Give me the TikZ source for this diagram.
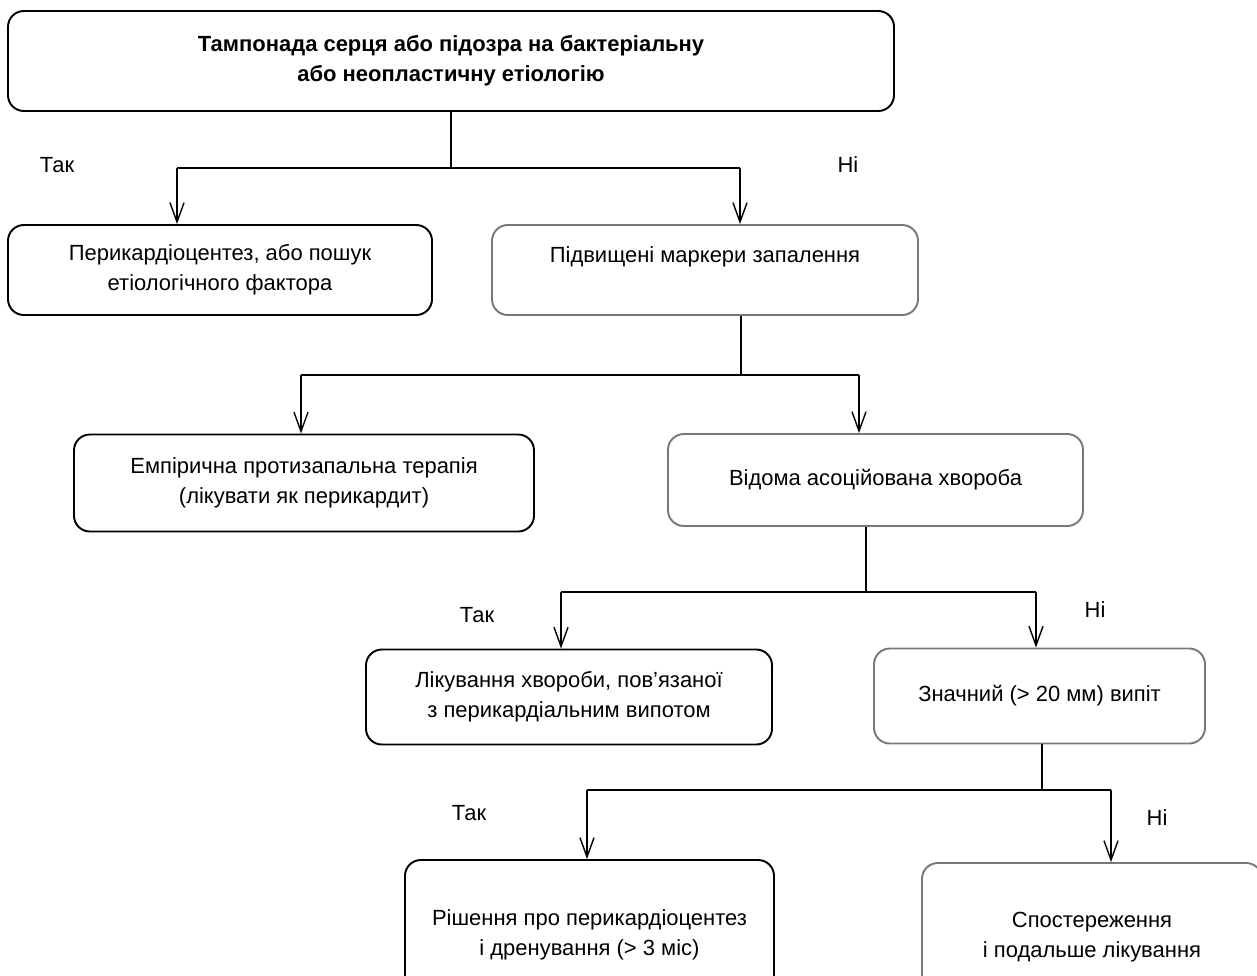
\documentclass[tikz,border=0pt]{standalone}
\usepackage{fontspec}
\setmainfont{Liberation Sans}
\usetikzlibrary{arrows.meta}
\definecolor{boxgrey}{RGB}{120,120,120}

\begin{document}
\begin{tikzpicture}[x=0.02cm,y=-0.02cm,
    box/.style={draw=black,line width=1.1pt,rounded corners=9pt,align=center,inner sep=0pt,font=\boxfontsize},
    greybox/.style={box,draw=boxgrey},
    boxsize/.style 2 args={minimum width=#1*0.02cm,minimum height=#2*0.02cm},
    stem/.style={line width=1.1pt},
    branch/.style={line width=0.8pt,-{Straight Barb[length=11pt,width=8pt]}},
    answer/.style={inner sep=0pt,font=\boxfontsize}]
    \providecommand{\boxfontsize}{\fontsize{12.5pt}{17pt}\selectfont}
    \clip (0,0) rectangle (1257,975);
    % boxes
    \node[box,boxsize={886}{100}] (tamponade) at (451,61)
        {\bfseries Тампонада серця або підозра на бактеріальну\\\bfseries або неопластичну етіологію};
    \node[box,boxsize={424}{90}] (pericard) at (220,270)
        {Перикардіоцентез, або пошук\\етіологічного фактора};
    \node[greybox,boxsize={426}{90}] (markers) at (705,270)
        {Підвищені маркери запалення\\[-4.5pt]\strut};
    \node[box,boxsize={460}{97}] (empiric) at (304,483)
        {Емпірична протизапальна терапія\\(лікувати як перикардит)};
    \node[greybox,boxsize={415}{92}] (disease) at (875.5,480)
        {Відома асоційована хвороба};
    \node[box,boxsize={406}{95}] (treat) at (569,697)
        {Лікування хвороби, пов’язаної\\з перикардіальним випотом};
    \node[greybox,boxsize={331}{95}] (effusion) at (1039.5,696)
        {Значний (> 20 мм) випіт};
    \node[box,boxsize={369}{150}] (decision) at (589.5,935)
        {Рішення про перикардіоцентез\\і дренування (> 3 міс)};
    \node[greybox,boxsize={340}{148}] (observe) at (1092,937)
        {Спостереження\\і подальше лікування};
    % forks
    \coordinate (forkA) at (451,168);
    \coordinate (forkAl) at (177,168);
    \coordinate (forkAr) at (740,168);
    \coordinate (forkB) at (741,375);
    \coordinate (forkBl) at (301,375);
    \coordinate (forkBr) at (859,375);
    \coordinate (forkC) at (866,592);
    \coordinate (forkCl) at (561,592);
    \coordinate (forkCr) at (1036,592);
    \coordinate (forkD) at (1042,790);
    \coordinate (forkDl) at (587,790);
    \coordinate (forkDr) at (1111,790);
    \draw[stem] (tamponade.south) -- (forkA);
    \draw[stem] (forkAl) -- (forkAr);
    \draw[branch] (forkAl) -- (forkAl |- pericard.north);
    \draw[branch] (forkAr) -- (forkAr |- markers.north);
    \draw[stem] (forkB |- markers.south) -- (forkB);
    \draw[stem] (forkBl) -- (forkBr);
    \draw[branch] (forkBl) -- (forkBl |- empiric.north);
    \draw[branch] (forkBr) -- (forkBr |- disease.north);
    \draw[stem] (forkC |- disease.south) -- (forkC);
    \draw[stem] (forkCl) -- (forkCr);
    \draw[branch] (forkCl) -- (forkCl |- treat.north);
    \draw[branch] (forkCr) -- (forkCr |- effusion.north);
    \draw[stem] (forkD |- effusion.south) -- (forkD);
    \draw[stem] (forkDl) -- (forkDr);
    \draw[branch] (forkDl) -- (forkDl |- decision.north);
    \draw[branch] (forkDr) -- (forkDr |- observe.north);
    % answers
    \node[answer] (yesA) at (57,165) {Так};
    \node[answer] (noA) at (848,165) {Ні};
    \node[answer] (yesC) at (477,615) {Так};
    \node[answer] (noC) at (1095,610) {Ні};
    \node[answer] (yesD) at (469,813) {Так};
    \node[answer] (noD) at (1157,818) {Ні};
\end{tikzpicture}
\end{document}
